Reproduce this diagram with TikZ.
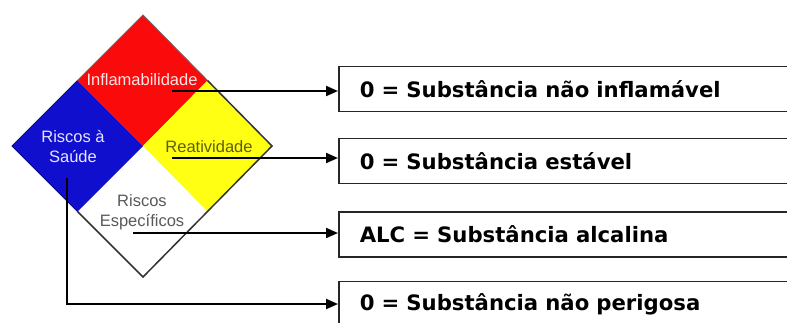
\documentclass[tikz,border=0pt]{standalone}
\usepackage{fontspec}
\setmainfont{Liberation Sans}
\newfontfamily\verdfont{DejaVu Sans}
\usetikzlibrary{arrows.meta}

\definecolor{hzred}{RGB}{250,10,10}
\definecolor{hzblue}{RGB}{15,15,205}
\definecolor{hzyellow}{RGB}{255,255,20}
\definecolor{hzolive}{RGB}{95,95,10}

\tikzset{
  lbl/.style={font=\fontsize{16.5}{20}\selectfont, align=center, inner sep=0pt},
  descbox/.style={draw=black!85, line width=1.6pt, anchor=west, text width=430pt,
    inner xsep=21pt, minimum height=45pt, align=left,
    font=\verdfont\bfseries\fontsize{21.2}{24}\selectfont},
  arr/.style={-{Triangle[length=12pt,width=10pt]}, line width=2pt}
}

\begin{document}
\begin{tikzpicture}[x=1pt,y=-1pt]
   \useasboundingbox (0,0) rectangle (787,322);
   \fill[white] (0,0) rectangle (787,322);

   % diamond
   \fill[hzred] (143,15) -- (207.5,80.5) -- (143,146) -- (77.5,80.5) -- cycle;
   \fill[hzblue] (77.5,80.5) -- (143,146) -- (77.5,211.5) -- (12,146) -- cycle;
   \fill[hzyellow] (207.5,80.5) -- (272,146) -- (207.5,211.5) -- (143,146) -- cycle;
   \draw[black!60, line width=1pt] (77.5,80.5) -- (143,15) -- (207.5,80.5);
   \draw[hzblue!70!black, line width=1pt] (77.5,80.5) -- (12,146) -- (77.5,211.5);
   \draw[black!80, line width=1.5pt] (207.5,80.5) -- (272,146) -- (143,277) -- (77.5,211.5);

   \draw (142,80) node[lbl, text=red!10] (infl) {Inflamabilidade};
   \draw (73,147) node[lbl, text=blue!10] (saude) {Riscos à\\Saúde};
   \draw (209,147) node[lbl, text=hzolive] (reat) {Reatividade};
   \draw (142,212) node[lbl, text=black!65] (espec) {Riscos\\Específicos};

   \coordinate (c1) at (172,91);
   \coordinate (c2) at (172,158);
   \coordinate (c3) at (133,233);
   \coordinate (c4) at (67,178);

   \draw (338,89) node[descbox] (box1) {0 = Substância não inflamável};
   \draw (338,161) node[descbox] (box2) {0 = Substância estável};
   \draw (338,234.5) node[descbox] (box3) {ALC = Substância alcalina};
   \draw (338,304) node[descbox] (box4) {0 = Substância não perigosa};

   \path[arr] (c1) edge (c1 -| box1.west);
   \path[arr] (c2) edge (c2 -| box2.west);
   \path[arr] (c3) edge (c3 -| box3.west);
   \draw[arr] (c4) |- (box4.west);

\end{tikzpicture}
\end{document}
